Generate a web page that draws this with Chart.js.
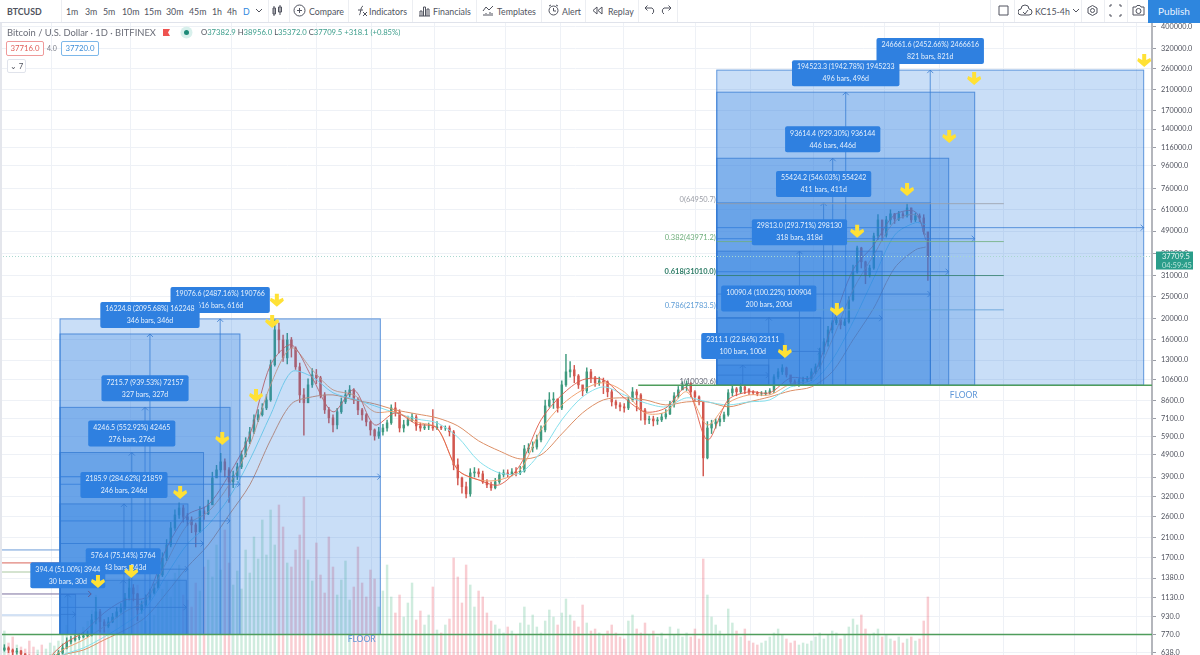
<!DOCTYPE html>
<html>
<head>
<meta charset="utf-8">
<script src="https://cdn.jsdelivr.net/npm/chart.js@4/dist/chart.umd.min.js"></script>
<style>
  html, body { margin: 0; padding: 0; background: #fff; overflow: hidden; }
  body { width: 1200px; height: 655px; position: relative; font-family: Lato, "Noto Sans", sans-serif; color: #50535e; }
  #price-chart { position: absolute; left: 0; top: 23px; }
  #toolbar { position: absolute; left: 0; top: 0; width: 1200px; height: 22px; border-bottom: 1px solid #e0e3eb; background: #fff; z-index: 2; }
  #toolbar span { position: absolute; top: 5px; font-size: 8.8px; line-height: 13px; white-space: nowrap; }
  #toolbar i { position: absolute; top: 0; width: 1px; height: 22px; background: #eceef2; }
  #toolbar svg { position: absolute; top: 4px; fill: none; stroke: #50535e; stroke-width: 1; }
  #publish { position: absolute; left: 1148px; top: 0; width: 52px; height: 23px; background: #2e86de; color: #e8f2ff; font-size: 10px; line-height: 23px; text-align: center; z-index: 3; }
  .legend { position: absolute; white-space: nowrap; z-index: 2; line-height: 13px; }
  .tag { position: absolute; z-index: 2; font-size: 7.8px; line-height: 13px; text-align: center; border-radius: 2px; background: #fff; }
  #sidestrip { position: absolute; left: 0; top: 23px; width: 2px; height: 632px; background: #e4e6ec; z-index: 2; }
</style>
</head>
<body>
<div id="toolbar"></div>
<div id="publish">Publish</div>
<div id="sidestrip"></div>
<div class="legend" style="left:7px;top:26px;font-size:9.4px;color:#6a6d78">Bitcoin / U.S. Dollar · 1D · BITFINEX</div>
<svg class="legend" style="left:162px;top:28px" width="9" height="10"><path d="M1 1H8L6 4.5L8 8H1Z" fill="#ef5350"/></svg>
<svg class="legend" style="left:180px;top:26px" width="13" height="13"><circle cx="6.5" cy="6.5" r="6" fill="#d8f0ec"/><circle cx="6.5" cy="6.5" r="2.5" fill="#1e8a78"/></svg>
<div class="legend" style="left:201px;top:26px;font-size:7.7px;color:#3d9e8c"><span style="color:#50535e">O</span>37382.9 <span style="color:#50535e">H</span>38956.0 <span style="color:#50535e">L</span>35372.0 <span style="color:#50535e">C</span>37709.5 +318.1 (+0.85%)</div>
<div class="tag" style="left:6px;top:41px;width:36px;height:13px;border:1px solid #ef9a9a;color:#e0605a">37716.0</div>
<div class="legend" style="left:47px;top:42px;font-size:7px;color:#787b86">4.0</div>
<div class="tag" style="left:61px;top:41px;width:36px;height:13px;border:1px solid #7db8ea;color:#3d8ed8">37720.0</div>
<div class="tag" style="left:7px;top:59px;width:17px;height:12px;border:1px solid #e0e3eb;line-height:12px;color:#50535e">⌄ 7</div>
<canvas id="price-chart" width="1200" height="632"></canvas>
<script>
// candles, one every 8 days, open is the close before
const firstDay = -115;
const dayStep = 8;
const closes = [658,672,658,645,651,632,613,607,600,607,594,600,607,607,
  638,672,715,730,745,753,760,768,896,975,878,843,878,923,975,1014,1124,1246,1172,994,1046,1124,1184,1246,1425,1697,1940,2310,2640,2838,
  2587,2509,2385,2219,2753,2670,2930,3865,4198,4560,4198,3712,3950,4330,4900,5600,6210,7023,7400,7940,8628,12380,17730,16000,13290,16000,14720,12120,9080,8370,
  10070,11160,10820,9080,7784,7170,6670,7630,8450,9080,9563,8628,7784,7400,6880,6336,5950,6210,6460,6810,7940,7630,6460,6670,7023,7240,6600,6460,6530,6530,6460,6530,6460,6460,6210,
  4420,3865,3530,3280,4070,4110,4030,3712,3600,3490,3712,3990,4070,4030,4110,4070,4150,5210,5260,5310,5716,6336,8110,8628,8710,7940,10070,11510,11750,11040,10070,9470,11510,10820,10290,10490,10390,9370,8450,8190,8030,7940,8628,9370,9080,7784,7023,7090,6950,7023,7240,7470,8280,8990,9563,10070,10170,9370,8900,8450,4750,6460,6740,6880,7090,7400,9280,9660,9370,9860,9563,9370,9280,9180,9180,9280,9470,10930,11510,11990,11160,10390,10170,10490,10600,10710,11510,12120,14130,15680,17730,19050,19650,18660,19250,24140,32200,41200,35700,31200,33500,46600,54990,47000,54990,58500,55500,58500,57300,62200,54990,57300,56100,48600,37709.5];
const highs = [690,695,680,665,670,655,635,625,620,625,615,618,625,628,
  655,700,745,760,775,780,790,800,950,1130,1000,900,920,960,1020,1060,1180,1370,1290,1180,1090,1160,1230,1300,1520,1790,2050,2450,2780,2990,
  2920,2680,2590,2430,2880,2860,3080,4100,4400,4980,4700,4300,4150,4500,5100,5850,6500,7400,7800,8300,9100,13000,19666,19000,16800,17100,16400,14900,12600,9700,
  10700,11900,11800,11000,9300,8000,7400,7900,8800,9500,10000,9700,8800,7900,7500,6950,6400,6500,6700,7000,8200,8400,7800,7000,7300,7500,7400,6800,6700,6800,7800,6900,6600,6600,6600,
  6300,4700,3900,3700,4250,4300,4250,4150,3800,3700,3850,4100,4200,4200,4250,4300,4350,5400,5500,5600,6000,6600,8600,9300,9300,8700,10500,13800,12800,12300,11200,10000,12000,11800,11000,10900,10800,10500,9600,8600,8400,8300,8900,9800,9600,9200,7900,7300,7300,7200,7500,7800,8500,9300,9900,10400,10500,10300,9500,9000,8400,6900,7000,7100,7300,7600,9600,10000,9800,10200,10100,9700,9500,9400,9400,9500,9700,11200,11900,12400,12100,10800,10600,10700,10900,11000,11900,12500,14700,16200,18400,19500,20200,19700,19900,25000,34500,42000,41500,36000,34500,48000,58000,52000,57000,61000,58800,60000,59500,64800,62000,59000,58500,58000,45000];
const lows = [640,650,640,625,630,610,590,585,580,590,580,585,590,595,
  600,630,665,700,720,730,745,755,760,860,790,790,830,870,920,960,1000,1100,1090,890,960,1030,1100,1170,1230,1400,1650,1900,2250,2550,
  2450,2370,2200,1900,2200,2520,2650,2950,3900,4100,3900,3000,3500,3800,4250,4800,5500,6100,6900,7300,7800,8500,12200,14000,12800,12500,13400,11800,8400,6000,
  8500,9800,10200,8800,7500,6800,6200,6400,7500,8300,8900,8300,7400,7000,6600,6000,5700,5800,6000,6250,6700,7300,6200,6200,6600,6900,6300,6250,6350,6350,6300,6350,6350,6300,5950,
  4200,3600,3300,3150,3200,3900,3900,3650,3500,3400,3450,3650,3900,3900,3950,3950,4000,4100,5000,5050,5200,5600,6200,8000,7900,7600,7800,9900,10900,10300,9700,9000,9300,10300,9900,10000,9200,8900,8100,7900,7700,7600,7800,8500,7700,7000,6700,6750,6600,6700,6900,7100,7400,8000,8800,9600,9500,8900,8500,8200,3950,4700,6100,6450,6600,6900,7300,9000,9000,9200,9200,9100,9100,9000,9000,9050,9150,9300,10700,11200,10900,10100,9950,9900,10200,10400,10500,11300,11900,13800,15000,17200,18700,17900,18500,19000,23800,31800,33500,28500,30500,33000,45000,44500,46000,52500,53000,54500,56000,56500,53500,54000,54000,47500,29500];
const volumes = [15,24,12,18,10,8,6,14,8,5,10,6,12,9,14,
  22,30,18,25,14,28,34,45,60,32,25,30,22,38,42,
  48,55,62,70,38,34,45,40,52,66,74,58,82,90,60,
  55,48,72,64,88,95,78,110,85,125,92,70,84,66,105,
  82,118,96,135,100,145,110,150,128,92,88,105,120,158,95,
  74,112,80,62,118,88,60,75,94,55,68,108,72,58,85,
  76,48,64,90,58,42,60,38,52,72,35,44,30,40,68,
  25,22,30,36,97,78,52,90,70,48,64,58,42,34,30,
  26,22,28,24,20,32,48,30,40,28,22,34,45,38,30,
  42,56,40,34,28,50,32,24,26,22,20,24,30,22,18,
  16,34,40,26,22,32,20,24,18,22,16,28,20,26,18,
  22,18,26,16,96,60,38,30,24,20,46,32,24,18,26,
  14,12,10,12,14,18,22,26,20,16,12,14,10,12,11,
  14,18,22,16,20,24,22,16,20,28,36,30,40,26,20,
  22,26,18,20,16,14,18,12,16,18,14,16,34,58];

const maDays = [-75,-35,5,45,85,125,165,205,245,285,325,365,405,445,485,525,565,605,645,685,725,765,805,845,885,925,965,1005,1045,1085,1125,1165,1205,1245,1285,1325,1365,1405,1445,1485,1525,1565,1605,1645,1665];
const maFast = [525,570,695,790,965,1101,1135,1880,2640,2930,3990,6030,12380,15200,10820,7630,9563,6670,7550,6740,6460,4198,3787,3600,4420,7023,9080,10600,10600,8810,7630,7940,9760,5716,8628,9370,9280,10820,10930,18660,32870,42500,57900,59700,44760];
const maMid = [525,560,658,730,837,975,1101,1630,2385,2726,3600,5430,10070,14720,11750,9563,9080,7630,7630,6880,6460,4198,3787,3787,4198,6336,8190,9563,10290,9370,7550,7630,9370,6670,8370,9080,9080,10170,10600,16000,26760,38350,54000,57900,47000];
const maSlow = [525,546,625,672,753,860,1014,1425,1960,2385,3150,4653,7400,11510,10930,9280,8710,8110,7550,7090,6810,5880,4600,4070,4070,5050,7023,8900,9860,9080,8370,8030,8810,8450,8190,8450,8628,9860,10290,13020,19250,30250,47000,53400,52300];
const maLong = [536,564,625,658,730,809,923,1184,1546,1940,2640,3600,5716,8280,8900,9080,8628,8280,7784,7470,7170,6600,5660,5100,4700,4900,6080,7550,8628,8810,8628,8190,8450,8450,8030,8450,8900,9470,9860,11510,16000,22200,33500,40380,41600];

// price scale
const priceTicks = [400000,320000,260000,210000,170000,140000,116000,96000,76000,61000,49000,39000,31000,25000,20000,16000,13000,10600,8600,7100,5900,4900,3900,3200,2600,2100,1700,1380,1130,930,770,638];
const timeGridDays = [-77,44,227,433,554,644,796,917,1008,1160,1283,1373,1525,1646,1737,1890,2010];

// measure boxes over the 2017 run
const leftStartDay = 0;
const leftFloor = 772;
const leftBars = [616,346,327,276,246,243,30];
const leftDeltas = [19076.6,16224.8,7215.7,4246.5,2185.9,576.4,394.4];
const leftTopLabels = ['19076.6 (2487.16%) 190766','16224.8 (2095.68%) 162248','7215.7 (939.53%) 72157','4246.5 (552.92%) 42465','2185.9 (284.62%) 21859','576.4 (75.14%) 5764','394.4 (51.00%) 3944'];
// measure boxes projected from the 2020 floor
const rightStartDay = 1263;
const rightFloor = 10030.6;
const rightBars = [821,496,446,411,318,200,100];
const rightDeltas = [246661.6,194523.3,93614.4,55424.2,29813.0,10090.4,2311.1];
const rightTopLabels = ['246661.6 (2452.66%) 2466616','194523.3 (1942.78%) 1945233','93614.4 (929.30%) 936144','55424.2 (546.03%) 554242','29813.0 (293.71%) 298130','10090.4 (100.22%) 100904','2311.1 (22.86%) 23111'];

// fib levels
const fibPrices = [64950.7,43971.2,31010.0,21783.5,10030.6];
const fibLabels = ['0(64950.7)','0.382(43971.2)','0.618(31010.0)','0.786(21783.5)','1(10030.6)'];
const fibColors = ['#9a9da6','#6fae7c','#2f7d68','#5b9bd5','#60636e'];
const fibEndDay = 1815;
const oldFibPrices = [1842,1612,1468,1171,943];
const oldFibColors = ['#6b9bd8','#d9655a','#a9c7a0','#7a6f9e','#a9c6ea'];

// yellow marker arrows
const markerDays = [73,137,231,312,377,408,417,1394,1494,1533,1629,1710,1758,2085];
const markerPrices = [1325,1468,3310,5770,8990,19220,23900,14120,21770,48600,74800,129000,234000,281900];

const lastPrice = 37709.5;
const lastPriceText = '37709.5';
const countdownText = '04:59:45';
const floorLabelDays = [580,1738];
const floorLabelPrices = [772,10030.6];

const upColor = '#3f9a7e';
const downColor = '#d2574f';

const candleDays = closes.map((c, i) => firstDay + i * dayStep);
const opens = closes.map((c, i) => i === 0 ? 650 : closes[i - 1]);
const isUp = closes.map((c, i) => c >= opens[i]);

function buildToolbar() {
  const bar = document.getElementById('toolbar');
  const labels = [['BTCUSD',7,'700'],['1m',66],['3m',85],['5m',103],['10m',122],['15m',144],['30m',166],['45m',189],['1h',212],['4h',227],['D',243],
    ['Compare',309],['Indicators',369],['Financials',433],['Templates',497],['Alert',562],['Replay',608],['KC15-4h',1035]];
  labels.forEach(l => {
    const s = document.createElement('span');
    s.textContent = l[0];
    s.style.left = l[1] + 'px';
    if (l[2]) s.style.fontWeight = l[2];
    if (l[0] === 'D') s.style.color = '#2e86de';
    bar.appendChild(s);
  });
  [61,268,289,348,412,476,541,585,638,677,990,1014,1081,1104,1127].forEach(x => {
    const s = document.createElement('i');
    s.style.left = x + 'px';
    bar.appendChild(s);
  });
  const icons = [
    [254,'M2 5L5 8L8 5',10],
    [271,'M3 2V12M2 4H4.5V10H2ZM9 1V11M7.5 3H10.5V8H7.5Z',13],
    [293,'M6.5 1A5.5 5.5 0 1 0 6.5 12A5.5 5.5 0 1 0 6.5 1M6.5 4V9M4 6.5H9',13],
    [355,'M4 11C6 11 5 3 8 2M3 6H8M8 8L12 12M12 8L8 12',13],
    [418,'M1 12H12M2 12V7H4V12M5.5 12V3H7.5V12M9 12V5H11V12',13],
    [482,'M1 7L4 3L7 6L11 2M2 12V10M4 12V9M6 12V10M8 12V8M10 12V9',13],
    [547,'M6.5 2A4.5 4.5 0 1 0 6.5 11A4.5 4.5 0 1 0 6.5 2M6.5 4V7H9M2 2L4 1M11 2L9 1',13],
    [590,'M7 3L3 6.5L7 10ZM12 3L8 6.5L12 10Z',13],
    [643,'M9 10A3.5 3.5 0 0 0 9 4H2M4.5 1.5L2 4L4.5 6.5',12],
    [661,'M3 10A3.5 3.5 0 0 1 3 4H10M7.5 1.5L10 4L7.5 6.5',12],
    [997,'M2 2H11V11H2Z',13],
    [1018,'M3 11A3 3 0 0 1 3 5A4 4 0 0 1 11 5A3 3 0 0 1 11 11ZM5 8L7 10L10 6',15],
    [1071,'M2 5L5 8L8 5',10],
    [1086,'M6.5 1.5L11 4V9L6.5 11.5L2 9V4ZM6.5 4.5A2 2 0 1 0 6.5 8.5A2 2 0 1 0 6.5 4.5',13],
    [1109,'M1 3V1H3M10 1H12V3M12 10V12H10M3 12H1V10',13],
    [1132,'M1 3H4L5 1.5H8L9 3H12V11H1ZM6.5 4.5A2.3 2.3 0 1 0 6.5 9.5A2.3 2.3 0 1 0 6.5 4.5',13]
  ];
  icons.forEach(ic => {
    bar.insertAdjacentHTML('beforeend', '<svg style="left:' + ic[0] + 'px" width="' + ic[2] + '" height="13"><path d="' + ic[1] + '"/></svg>');
  });
}

// draws a box with its two arrows
function drawBox(ctx, x, y, startDay, bars, floor, delta) {
  const left = x.getPixelForValue(startDay);
  const right = x.getPixelForValue(startDay + bars);
  const top = y.getPixelForValue(floor + delta);
  const bottom = y.getPixelForValue(floor);
  const midX = (left + right) / 2;
  const midY = (top + bottom) / 2;
  ctx.fillStyle = 'rgba(38,125,225,0.25)';
  ctx.fillRect(left, top, right - left, bottom - top);
  ctx.strokeStyle = 'rgba(50,120,210,0.75)';
  ctx.lineWidth = 1;
  ctx.strokeRect(left, top, right - left, bottom - top);
  ctx.beginPath();
  ctx.moveTo(midX, bottom);
  ctx.lineTo(midX, top);
  ctx.moveTo(midX - 3, top + 3);
  ctx.lineTo(midX, top);
  ctx.lineTo(midX + 3, top + 3);
  ctx.moveTo(left, midY);
  ctx.lineTo(right, midY);
  ctx.moveTo(right - 3, midY - 3);
  ctx.lineTo(right, midY);
  ctx.lineTo(right - 3, midY + 3);
  ctx.stroke();
}

function drawBoxLabel(ctx, x, y, startDay, bars, floor, delta, text) {
  const midX = (x.getPixelForValue(startDay) + x.getPixelForValue(startDay + bars)) / 2;
  const bottom = y.getPixelForValue(floor + delta) - 6;
  const line2 = bars + ' bars, ' + bars + 'd';
  ctx.font = '7px Lato';
  const w = ctx.measureText(text).width + 10;
  ctx.fillStyle = '#2f80e0';
  ctx.beginPath();
  ctx.roundRect(midX - w / 2, bottom - 26, w, 26, 2);
  ctx.fill();
  ctx.fillStyle = '#e6f0fc';
  ctx.textAlign = 'center';
  ctx.textBaseline = 'middle';
  ctx.fillText(text, midX, bottom - 19);
  ctx.fillText(line2, midX, bottom - 7);
}

function drawMarker(ctx, px, py) {
  ctx.fillStyle = '#ffe135';
  ctx.beginPath();
  ctx.moveTo(px - 2, py - 7);
  ctx.lineTo(px + 2, py - 7);
  ctx.lineTo(px + 2, py - 1);
  ctx.lineTo(px + 6, py - 3);
  ctx.lineTo(px + 7, py);
  ctx.lineTo(px, py + 6);
  ctx.lineTo(px - 7, py);
  ctx.lineTo(px - 6, py - 3);
  ctx.lineTo(px - 2, py - 1);
  ctx.closePath();
  ctx.fill();
}

const overlayPlugin = {
  id: 'overlay',
  afterDatasetsDraw(chart) {
    const ctx = chart.ctx;
    const x = chart.scales.x;
    const y = chart.scales.y;
    const area = chart.chartArea;
    ctx.save();

    // old fib lines on the left
    oldFibPrices.forEach((p, i) => {
      ctx.strokeStyle = oldFibColors[i];
      ctx.lineWidth = 1;
      ctx.beginPath();
      ctx.moveTo(area.left + 2, y.getPixelForValue(p));
      ctx.lineTo(x.getPixelForValue(i === 3 ? 60 : 0), y.getPixelForValue(p));
      ctx.stroke();
    });

    leftBars.forEach((b, i) => drawBox(ctx, x, y, leftStartDay, b, leftFloor, leftDeltas[i]));
    rightBars.forEach((b, i) => drawBox(ctx, x, y, rightStartDay, b, rightFloor, rightDeltas[i]));

    // arrow off the purple old level
    const arrowY = y.getPixelForValue(oldFibPrices[3]);
    const arrowX = x.getPixelForValue(60);
    ctx.strokeStyle = '#5b5a94';
    ctx.beginPath();
    ctx.moveTo(arrowX - 3, arrowY - 3);
    ctx.lineTo(arrowX, arrowY);
    ctx.lineTo(arrowX - 3, arrowY + 3);
    ctx.stroke();

    // fib levels on the right
    ctx.textAlign = 'right';
    ctx.textBaseline = 'middle';
    fibPrices.forEach((p, i) => {
      const py = y.getPixelForValue(p);
      if (i < fibPrices.length - 1) {
        ctx.strokeStyle = fibColors[i];
        ctx.globalAlpha = 0.8;
        ctx.beginPath();
        ctx.moveTo(x.getPixelForValue(rightStartDay), py);
        ctx.lineTo(x.getPixelForValue(fibEndDay), py);
        ctx.stroke();
        ctx.globalAlpha = 1;
      }
      ctx.font = (i === 2 ? '700 ' : '') + '7.5px Lato';
      ctx.fillStyle = fibColors[i];
      ctx.fillText(fibLabels[i], x.getPixelForValue(rightStartDay) - 1, py - 4);
    });

    // floors
    ctx.strokeStyle = '#4f9d5c';
    ctx.lineWidth = 1.5;
    ctx.beginPath();
    ctx.moveTo(area.left, y.getPixelForValue(leftFloor));
    ctx.lineTo(area.right, y.getPixelForValue(leftFloor));
    ctx.moveTo(x.getPixelForValue(1112), y.getPixelForValue(rightFloor));
    ctx.lineTo(area.right, y.getPixelForValue(rightFloor));
    ctx.stroke();
    ctx.font = '8.5px Lato';
    ctx.textAlign = 'center';
    ctx.fillStyle = '#5f97d8';
    floorLabelDays.forEach((d, i) => {
      ctx.fillText('FLOOR', x.getPixelForValue(d), y.getPixelForValue(floorLabelPrices[i]) + (i === 0 ? 5 : 10));
    });

    // last price line
    ctx.strokeStyle = '#a9d8cf';
    ctx.lineWidth = 1;
    ctx.setLineDash([1, 2]);
    ctx.beginPath();
    ctx.moveTo(area.left, y.getPixelForValue(lastPrice));
    ctx.lineTo(area.right, y.getPixelForValue(lastPrice));
    ctx.stroke();
    ctx.setLineDash([]);

    leftBars.forEach((b, i) => drawBoxLabel(ctx, x, y, leftStartDay, b, leftFloor, leftDeltas[i], leftTopLabels[i]));
    rightBars.forEach((b, i) => drawBoxLabel(ctx, x, y, rightStartDay, b, rightFloor, rightDeltas[i], rightTopLabels[i]));

    markerDays.forEach((d, i) => drawMarker(ctx, x.getPixelForValue(d), y.getPixelForValue(markerPrices[i])));
    ctx.restore();
  },
  afterDraw(chart) {
    const ctx = chart.ctx;
    const py = chart.scales.y.getPixelForValue(lastPrice);
    ctx.save();
    ctx.fillStyle = '#2a9d8a';
    ctx.fillRect(1156, py - 5, 37, 18);
    ctx.font = '7.5px Lato';
    ctx.textAlign = 'left';
    ctx.textBaseline = 'middle';
    ctx.fillStyle = '#e4f5f1';
    ctx.fillText(lastPriceText, 1162, py);
    ctx.fillStyle = '#b5e2d8';
    ctx.fillText(countdownText, 1162, py + 9);
    ctx.restore();
  }
};

buildToolbar();

new Chart(document.getElementById('price-chart'), {
  type: 'bar',
  data: {
    datasets: [
      {
        type: 'line', label: 'ma fast', order: 1, borderColor: 'rgba(224,92,72,0.9)', borderWidth: 1, pointRadius: 0, tension: 0.3,
        data: maDays.map((d, i) => ({ x: d, y: maFast[i] }))
      },
      {
        type: 'line', label: 'ma mid', order: 1, borderColor: 'rgba(240,160,110,0.95)', borderWidth: 1, pointRadius: 0, tension: 0.3,
        data: maDays.map((d, i) => ({ x: d, y: maMid[i] }))
      },
      {
        type: 'line', label: 'ma slow', order: 1, borderColor: '#86e0ec', borderWidth: 1, pointRadius: 0, tension: 0.3,
        data: maDays.map((d, i) => ({ x: d, y: maSlow[i] }))
      },
      {
        type: 'line', label: 'ma long', order: 1, borderColor: '#dc8f66', borderWidth: 1, pointRadius: 0, tension: 0.3,
        data: maDays.map((d, i) => ({ x: d, y: maLong[i] }))
      },
      {
        label: 'body', order: 2, barThickness: 1.8, grouped: false,
        data: candleDays.map((d, i) => ({ x: d, y: [opens[i], closes[i]] })),
        backgroundColor: isUp.map(u => u ? upColor : downColor)
      },
      {
        label: 'wick', order: 3, barThickness: 0.8, grouped: false,
        data: candleDays.map((d, i) => ({ x: d, y: [lows[i], highs[i]] })),
        backgroundColor: isUp.map(u => u ? upColor : downColor)
      },
      {
        label: 'volume', order: 4, barThickness: 1.8, grouped: false, yAxisID: 'volume',
        data: candleDays.map((d, i) => ({ x: d, y: volumes[i] })),
        backgroundColor: isUp.map(u => u ? 'rgba(83,185,135,0.28)' : 'rgba(235,77,92,0.28)')
      }
    ]
  },
  options: {
    responsive: false,
    animation: false,
    events: [],
    layout: { padding: 0 },
    plugins: { legend: { display: false }, tooltip: { enabled: false } },
    scales: {
      x: {
        type: 'linear',
        min: -115.4,
        max: 2100,
        offset: false,
        afterBuildTicks(scale) { scale.ticks = timeGridDays.map(v => ({ value: v })); },
        afterFit(scale) { scale.height = 0; scale.paddingLeft = 0; scale.paddingRight = 0; },
        ticks: { display: false, autoSkip: false },
        grid: { color: '#eef1f6', drawTicks: false },
        border: { display: false }
      },
      y: {
        type: 'logarithmic',
        position: 'right',
        min: 625,
        max: 416800,
        afterBuildTicks(scale) { scale.ticks = priceTicks.map(v => ({ value: v })); },
        afterFit(scale) { scale.width = 48; scale.paddingTop = 0; scale.paddingBottom = 0; },
        ticks: {
          autoSkip: false,
          color: '#50535e',
          padding: 5,
          font: { family: 'Lato', size: 7.3 },
          callback: v => Number(v).toFixed(1)
        },
        grid: { color: '#eef1f6', tickColor: '#9a9da6', tickLength: 4 },
        border: { color: '#b4b6bc', width: 2 }
      },
      volume: { type: 'linear', display: false, min: 0, max: 632 }
    }
  },
  plugins: [overlayPlugin]
});
</script>
</body>
</html>
